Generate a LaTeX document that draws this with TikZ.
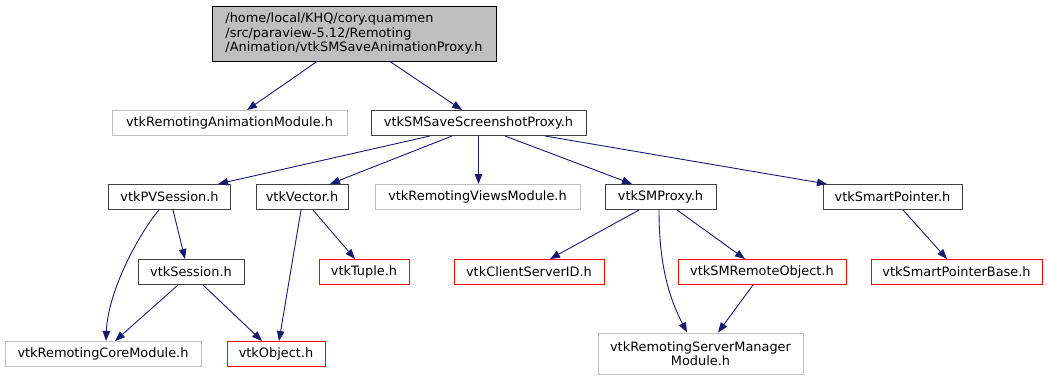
\documentclass[tikz,border=0pt]{standalone}
\usepackage{fontspec}
\setmainfont{DejaVu Sans}
\usetikzlibrary{arrows.meta}
\definecolor{edgeblue}{HTML}{191970}
\definecolor{boxdark}{HTML}{404040}
\definecolor{boxgray}{HTML}{BFBFBF}
\definecolor{boxred}{HTML}{FF0000}
\tikzset{
  hdr/.style={draw=boxdark, line width=1pt, fill=white, inner sep=0pt,
    minimum height=25pt, font=\fontsize{12.9}{14.5}\selectfont},
  hdrgray/.style={hdr, draw=boxgray},
  hdrred/.style={hdr, draw=boxred},
  hdrroot/.style={hdr, draw=black, fill=boxgray, align=left},
  dep/.style={draw=edgeblue, line width=0.9pt,
    -{Triangle[length=10pt,width=7.5pt]}},
}
\begin{document}
\begin{tikzpicture}[x=1pt, y=-1pt]
\useasboundingbox (0,0) rectangle (1048,380);

% header nodes
\node[hdrroot, minimum width=284pt, minimum height=55pt] (root) at (354,33.5)
  {/home/local/KHQ/cory.quammen\\/src/paraview-5.12/Remoting\\/Animation/vtkSMSaveAnimationProxy.h};
\node[hdrgray, minimum width=235pt] (ram) at (229.5,123) {vtkRemotingAnimationModule.h};
\node[hdr, minimum width=215pt] (ssp) at (478.5,123) {vtkSMSaveScreenshotProxy.h};

\node[hdr, minimum width=122pt] (pvs) at (169.5,197) {vtkPVSession.h};
\node[hdr, minimum width=92pt] (vec) at (302,197) {vtkVector.h};
\node[hdrgray, minimum width=205pt] (rvm) at (477.5,197) {vtkRemotingViewsModule.h};
\node[hdr, minimum width=111pt] (smp) at (660.5,197) {vtkSMProxy.h};
\node[hdr, minimum width=139pt] (spt) at (892.5,197) {vtkSmartPointer.h};

\node[hdr, minimum width=106pt] (ses) at (191,272) {vtkSession.h};
\node[hdrred, minimum width=90pt] (tup) at (364,272) {vtkTuple.h};
\node[hdrred, minimum width=150pt] (csi) at (529,272) {vtkClientServerID.h};
\node[hdrred, minimum width=168pt] (sro) at (762,272) {vtkSMRemoteObject.h};
\node[hdrred, minimum width=171pt] (spb) at (956.5,272) {vtkSmartPointerBase.h};

\node[hdrgray, minimum width=196pt] (rcm) at (103,354) {vtkRemotingCoreModule.h};
\node[hdrred, minimum width=98pt] (obj) at (276,354) {vtkObject.h};
\node[hdrgray, minimum width=205pt, minimum height=41pt, align=center] (rsm) at (700.5,353.5)
  {vtkRemotingServerManager\\Module.h};

% include dependencies
\draw[dep] ([xshift=-37pt]root.south) -- ([xshift=17.5pt]ram.north);
\draw[dep] ([xshift=36pt]root.south) -- ([xshift=-16.5pt]ssp.north);

\draw[dep] ([xshift=-48.5pt]ssp.south) -- ([xshift=48.5pt]pvs.north);
\draw[dep] ([xshift=-26.5pt]ssp.south) -- ([xshift=28pt]vec.north);
\draw[dep] (ssp.south) -- (ssp.south |- rvm.north);
\draw[dep] ([xshift=26.5pt]ssp.south) -- ([xshift=-28.5pt]smp.north);
\draw[dep] ([xshift=66.5pt]ssp.south) -- ([xshift=-65.5pt]spt.north);

\draw[dep] ([xshift=-10.5pt]pvs.south) .. controls +(-19,22) and +(2,-51) .. ([xshift=3pt]rcm.north);
\draw[dep] ([xshift=3.5pt]pvs.south) -- ([xshift=-6pt]ses.north);
\draw[dep] ([xshift=-1pt]vec.south) -- ([xshift=3pt]obj.north);
\draw[dep] ([xshift=11pt]vec.south) -- ([xshift=-9pt]tup.north);

\draw[dep] ([xshift=-13pt]ses.south) -- ([xshift=12pt]rcm.north);
\draw[dep] ([xshift=12pt]ses.south) -- ([xshift=-14pt]obj.north);

\draw[dep] ([xshift=-21.5pt]smp.south) -- ([xshift=21pt]csi.north);
\draw[dep] ([xshift=-1.5pt]smp.south) .. controls +(0,55) and +(-18,-35) .. ([xshift=-13.5pt]rsm.north);
\draw[dep] ([xshift=16.5pt]smp.south) -- ([xshift=-17pt]sro.north);
\draw[dep] ([xshift=-9pt]sro.south) -- ([xshift=17.5pt]rsm.north);

\draw[dep] ([xshift=10.5pt]spt.south) -- ([xshift=-9.5pt]spb.north);
\end{tikzpicture}
\end{document}
